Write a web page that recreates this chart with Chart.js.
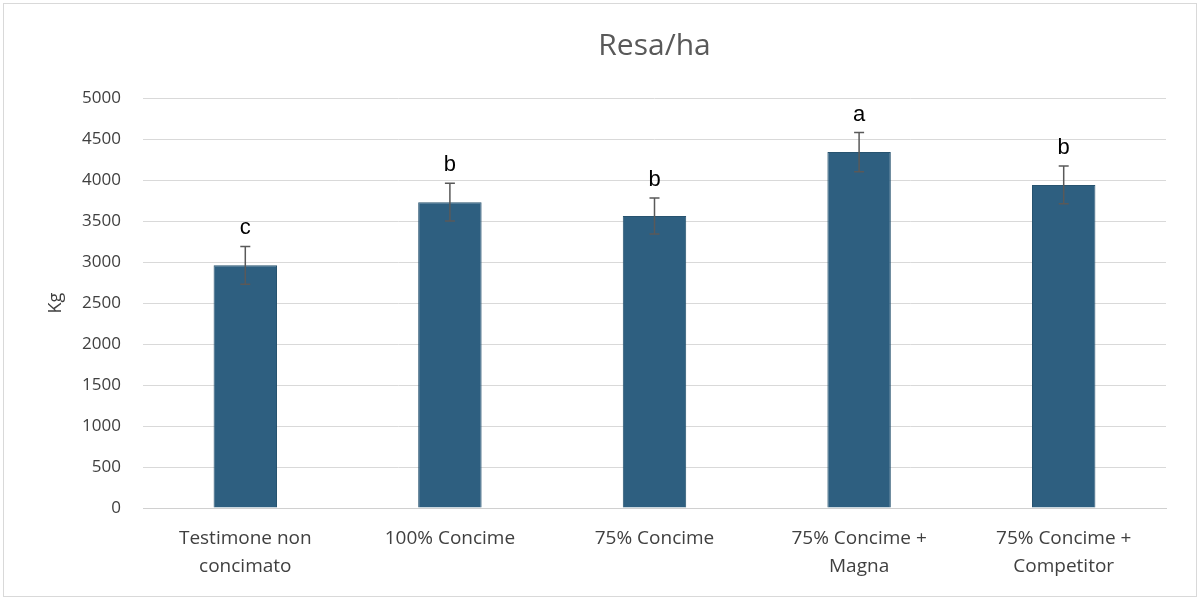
<!DOCTYPE html>
<html lang="it">
<head>
    <meta charset="UTF-8">
    <title>Resa/ha</title>
    <script src="https://cdn.jsdelivr.net/npm/chart.js"></script>
    <style>
        body { margin: 0; background: #fff; }
        #wrap { position: relative; width: 1200px; height: 600px; }
        #frame { position: absolute; left: 3px; top: 3px; width: 1192px; height: 592px;
                 border: 1px solid #d9d9d9; pointer-events: none; }
    </style>
</head>
<body>
    <div id="wrap">
        <canvas id="resaChart" width="1200" height="600"></canvas>
        <div id="frame"></div>
    </div>

    <script>
        // dati
        var categories = [
            ['Testimone non', 'concimato'],
            '100% Concime',
            '75% Concime',
            ['75% Concime +', 'Magna'],
            ['75% Concime +', 'Competitor']
        ];
        var resa = [2960, 3730, 3560, 4340, 3940];
        var errori = [230, 230, 220, 240, 230];
        var lettere = ['c', 'b', 'b', 'a', 'b'];
        var yTicks = [0, 500, 1000, 1500, 2000, 2500, 3000, 3500, 4000, 4500, 5000];

        // barre di errore + lettere di significatività
        var errorBars = {
            id: 'errorBars',
            afterDatasetsDraw: function(chart) {
                var ctx = chart.ctx;
                var meta = chart.getDatasetMeta(0);
                var y = chart.scales.y;
                ctx.save();
                meta.data.forEach(function(bar, i) {
                    var x = bar.x;
                    var top = y.getPixelForValue(resa[i] + errori[i]);
                    var bottom = y.getPixelForValue(resa[i] - errori[i]);
                    ctx.strokeStyle = '#595959';
                    ctx.lineWidth = 1.5;
                    ctx.beginPath();
                    ctx.moveTo(x, top);
                    ctx.lineTo(x, bottom);
                    ctx.moveTo(x - 5, top);
                    ctx.lineTo(x + 5, top);
                    ctx.moveTo(x - 5, bottom);
                    ctx.lineTo(x + 5, bottom);
                    ctx.stroke();

                    ctx.fillStyle = '#000';
                    ctx.font = '22px "Liberation Sans", Arial, sans-serif';
                    ctx.textAlign = 'center';
                    ctx.textBaseline = 'middle';
                    ctx.fillText(lettere[i], x, top - 18);
                });
                ctx.restore();
            }
        };

        var ctx = document.getElementById('resaChart').getContext('2d');
        var myChart = new Chart(ctx, {
            type: 'bar',
            data: {
                labels: categories,
                datasets: [{
                    label: 'Resa',
                    data: resa,
                    backgroundColor: '#2E5F80',
                    borderColor: '#27536F',
                    borderWidth: 1,
                    barPercentage: 0.62,
                    categoryPercentage: 0.5
                }]
            },
            options: {
                responsive: false,
                animation: false,
                layout: { padding: { left: 45, right: 34, top: 28, bottom: 11 } },
                plugins: {
                    legend: { display: false },
                    tooltip: { enabled: false },
                    title: {
                        display: true,
                        fullSize: false,
                        text: 'Resa/ha',
                        color: '#595959',
                        font: { family: '"Open Sans", sans-serif', size: 30, weight: 'normal' },
                        padding: { top: 0, bottom: 34 }
                    }
                },
                scales: {
                    x: {
                        grid: { display: false },
                        border: { color: '#d0d0d0', width: 1 },
                        ticks: {
                            color: '#404040',
                            padding: 8,
                            maxRotation: 0,
                            autoSkip: false,
                            font: { family: '"Open Sans", sans-serif', size: 19, lineHeight: 1.5 }
                        }
                    },
                    y: {
                        min: 0,
                        max: 5000,
                        afterBuildTicks: function(scale) {
                            scale.ticks = yTicks.map(function(v) { return { value: v }; });
                        },
                        afterFit: function(scale) { scale.width = 98; },
                        grid: { color: '#d9d9d9', drawTicks: false },
                        border: { display: false },
                        title: {
                            display: true,
                            text: 'Kg',
                            color: '#404040',
                            font: { family: '"Open Sans", sans-serif', size: 18 },
                            padding: 0
                        },
                        ticks: {
                            color: '#404040',
                            padding: 22,
                            font: { family: '"Open Sans", sans-serif', size: 17 },
                            callback: function(v) { return String(v); }
                        }
                    }
                }
            },
            plugins: [errorBars]
        });
    </script>
</body>
</html>
